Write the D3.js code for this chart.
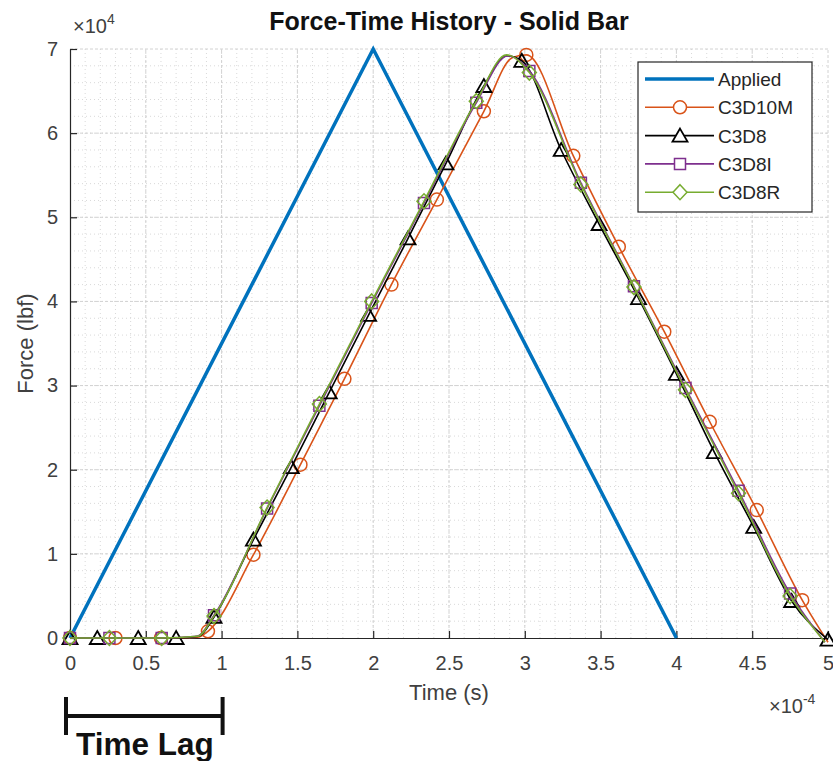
<!DOCTYPE html>
<html>
<head>
<meta charset="utf-8">
<script src="https://cdn.jsdelivr.net/npm/d3@7"></script>
<style>
  body { margin: 0; background: #fff; }
  svg { display: block; font-family: "Liberation Sans", Arial, sans-serif; }
</style>
</head>
<body>
<div id="chart"></div>
<script>
// time in units of 1e-4 s, force in units of 1e4 lbf
const xTicks = [0, 0.5, 1, 1.5, 2, 2.5, 3, 3.5, 4, 4.5, 5];
const yTicks = [0, 1, 2, 3, 4, 5, 6, 7];

const applied = [[0, 0], [2, 7], [4, 0]];

// [time, force, hasMarker]
const c3d10m = [
  [0, 0, 1], [0.30, 0, 1], [0.60, 0, 1], [0.84, 0.01, 0], [0.91, 0.08, 1],
  [1.21, 0.99, 1], [1.52, 2.06, 1], [1.81, 3.08, 1], [2.12, 4.2, 1],
  [2.42, 5.21, 1], [2.73, 6.26, 1], [2.92, 6.9, 0], [3.01, 6.93, 1],
  [3.32, 5.73, 1], [3.62, 4.65, 1], [3.92, 3.64, 1], [4.22, 2.57, 1],
  [4.53, 1.52, 1], [4.83, 0.45, 1], [5.0, -0.05, 0]
];
const c3d8 = [
  [0, 0, 1], [0.18, 0, 1], [0.45, 0, 1], [0.70, 0, 1], [0.85, 0.02, 0],
  [0.95, 0.25, 1], [1.21, 1.17, 1], [1.46, 2.03, 1], [1.71, 2.92, 1],
  [1.97, 3.84, 1], [2.23, 4.75, 1], [2.48, 5.64, 1], [2.73, 6.56, 1],
  [2.88, 6.92, 0], [2.98, 6.86, 1], [3.24, 5.8, 1], [3.49, 4.92, 1],
  [3.75, 4.04, 1], [4.0, 3.14, 1], [4.25, 2.21, 1], [4.51, 1.32, 1],
  [4.76, 0.44, 1], [5.0, -0.02, 1]
];
const c3d8i = [
  [0, 0, 1], [0.26, 0, 1], [0.605, 0, 1], [0.84, 0.02, 0], [0.95, 0.27, 1],
  [1.30, 1.54, 1], [1.645, 2.76, 1], [1.99, 3.98, 1], [2.335, 5.17, 1],
  [2.68, 6.36, 1], [2.89, 6.92, 0], [3.03, 6.74, 1], [3.37, 5.41, 1],
  [3.72, 4.18, 1], [4.06, 2.97, 1], [4.41, 1.75, 1], [4.75, 0.53, 1],
  [4.98, -0.05, 0]
];
const c3d8r = [
  [0, 0, 1], [0.26, 0, 1], [0.605, 0, 1], [0.84, 0.02, 0], [0.95, 0.26, 1],
  [1.30, 1.55, 1], [1.645, 2.78, 1], [1.99, 4.0, 1], [2.335, 5.19, 1],
  [2.68, 6.38, 1], [2.88, 6.93, 0], [3.03, 6.72, 1], [3.37, 5.39, 1],
  [3.72, 4.17, 1], [4.06, 2.95, 1], [4.41, 1.72, 1], [4.75, 0.5, 1],
  [4.98, -0.05, 0]
];

const series = [
  { name: "C3D10M", data: c3d10m, color: "#D95319", marker: "circle" },
  { name: "C3D8", data: c3d8, color: "#000000", marker: "triangle" },
  { name: "C3D8I", data: c3d8i, color: "#7E2F8E", marker: "square" },
  { name: "C3D8R", data: c3d8r, color: "#77AC30", marker: "diamond" }
];

const width = 833, height = 761;
const x = d3.scaleLinear().domain([0, 5]).range([70, 828]);
const y = d3.scaleLinear().domain([0, 7]).range([638, 49]);
const textColor = "#404040";

const svg = d3.select("#chart").append("svg")
  .attr("width", width)
  .attr("height", height);

// grid, minor first then major
const grid = svg.append("g");
grid.selectAll(".vminor")
  .data(d3.range(1, 50).map(i => i / 10))
  .join("line")
  .attr("x1", d => x(d)).attr("x2", d => x(d))
  .attr("y1", y(0)).attr("y2", y(7))
  .attr("stroke", "#d9d9d9").attr("stroke-width", 1)
  .attr("stroke-dasharray", "1,3");
grid.selectAll(".hminor")
  .data(d3.range(1, 35).map(i => i / 5))
  .join("line")
  .attr("y1", d => y(d)).attr("y2", d => y(d))
  .attr("x1", x(0)).attr("x2", x(5))
  .attr("stroke", "#d9d9d9").attr("stroke-width", 1)
  .attr("stroke-dasharray", "1,3");
grid.selectAll(".vmajor")
  .data(xTicks.slice(1))
  .join("line")
  .attr("x1", d => x(d)).attr("x2", d => x(d))
  .attr("y1", y(0)).attr("y2", y(7))
  .attr("stroke", "#d2d2d2").attr("stroke-width", 1)
  .attr("stroke-dasharray", "3,2");
grid.selectAll(".hmajor")
  .data(yTicks.slice(1))
  .join("line")
  .attr("y1", d => y(d)).attr("y2", d => y(d))
  .attr("x1", x(0)).attr("x2", x(5))
  .attr("stroke", "#d2d2d2").attr("stroke-width", 1)
  .attr("stroke-dasharray", "3,2");

// axes with inward ticks
const xAxis = svg.append("g")
  .attr("transform", `translate(0,${y(0)})`)
  .call(d3.axisBottom(x).tickValues(xTicks).tickFormat(d3.format("")).tickSizeInner(-7).tickSizeOuter(0).tickPadding(18));
const yAxis = svg.append("g")
  .attr("transform", `translate(${x(0)},0)`)
  .call(d3.axisLeft(y).tickValues(yTicks).tickFormat(d3.format("")).tickSizeInner(-7).tickSizeOuter(0).tickPadding(12));
[xAxis, yAxis].forEach(a => {
  a.select(".domain").attr("stroke", "#262626").attr("stroke-width", 1.2);
  a.selectAll(".tick line").attr("stroke", "#262626").attr("stroke-width", 1.2);
  a.selectAll(".tick text")
    .attr("fill", textColor)
    .style("font-size", "20px")
    .style("font-family", "Liberation Sans, Arial, sans-serif");
});

// exponent labels
svg.append("text")
  .attr("x", 73).attr("y", 33)
  .attr("fill", textColor)
  .style("font-size", "20px")
  .call(t => {
    t.append("tspan").text("\u00d710");
    t.append("tspan").attr("dy", -9).style("font-size", "14px").text("4");
  });
svg.append("text")
  .attr("x", 769).attr("y", 713)
  .attr("fill", textColor)
  .style("font-size", "20px")
  .call(t => {
    t.append("tspan").text("\u00d710");
    t.append("tspan").attr("dy", -9).style("font-size", "14px").text("-4");
  });

// labels
svg.append("text")
  .attr("x", (x(0) + x(5)) / 2).attr("y", 30)
  .attr("text-anchor", "middle")
  .style("font-size", "25px").style("font-weight", "bold")
  .attr("fill", "#111")
  .text("Force-Time History - Solid Bar");
svg.append("text")
  .attr("x", (x(0) + x(5)) / 2).attr("y", 700)
  .attr("text-anchor", "middle")
  .style("font-size", "22px")
  .attr("fill", textColor)
  .text("Time (s)");
svg.append("text")
  .attr("transform", `translate(33,${(y(0) + y(7)) / 2}) rotate(-90)`)
  .attr("text-anchor", "middle")
  .style("font-size", "22px")
  .attr("fill", textColor)
  .text("Force (lbf)");

// applied load
svg.append("path")
  .datum(applied)
  .attr("fill", "none")
  .attr("stroke", "#0072BD")
  .attr("stroke-width", 3.5)
  .attr("d", d3.line().x(d => x(d[0])).y(d => y(d[1])));

function markerPath(type) {
  if (type === "circle") return d3.symbol().type(d3.symbolCircle).size(Math.PI * 6.5 * 6.5)();
  if (type === "triangle") return "M0,-7L7.5,6L-7.5,6Z";
  if (type === "square") return "M-5.5,-5.5H5.5V5.5H-5.5Z";
  return "M0,-7.5L7,0L0,7.5L-7,0Z";
}

const line = d3.line()
  .x(d => x(d[0]))
  .y(d => y(d[1]))
  .curve(d3.curveMonotoneX);

series.forEach(s => {
  const g = svg.append("g");
  g.append("path")
    .datum(s.data)
    .attr("fill", "none")
    .attr("stroke", s.color)
    .attr("stroke-width", 1.6)
    .attr("d", line);
  g.selectAll("path.mk")
    .data(s.data.filter(d => d[2]))
    .join("path")
    .attr("class", "mk")
    .attr("transform", d => `translate(${x(d[0])},${y(d[1])})`)
    .attr("d", markerPath(s.marker))
    .attr("fill", "none")
    .attr("stroke", s.color)
    .attr("stroke-width", s.marker === "triangle" ? 1.8 : 1.5);
});

// legend
const legend = svg.append("g");
legend.append("rect")
  .attr("x", 638).attr("y", 62)
  .attr("width", 174).attr("height", 150)
  .attr("fill", "#fff")
  .attr("stroke", "#262626").attr("stroke-width", 1.2);
const entries = [{ name: "Applied", color: "#0072BD", marker: null }].concat(series);
entries.forEach((e, i) => {
  const cy = 79 + i * 28.3;
  legend.append("line")
    .attr("x1", 645).attr("x2", 714)
    .attr("y1", cy).attr("y2", cy)
    .attr("stroke", e.color)
    .attr("stroke-width", e.marker ? 1.6 : 3.5);
  if (e.marker) {
    legend.append("path")
      .attr("transform", `translate(680,${cy})`)
      .attr("d", markerPath(e.marker))
      .attr("fill", "#fff")
      .attr("stroke", e.color)
      .attr("stroke-width", e.marker === "triangle" ? 1.8 : 1.5);
  }
  legend.append("text")
    .attr("x", 718).attr("y", cy + 7)
    .style("font-size", "19px")
    .attr("fill", "#262626")
    .text(e.name);
});

// time lag bracket
const lag = svg.append("g").attr("stroke", "#111").attr("stroke-width", 4);
lag.append("line").attr("x1", x(0) - 4).attr("x2", x(0) - 4).attr("y1", 697).attr("y2", 735);
lag.append("line").attr("x1", x(1) + 1).attr("x2", x(1) + 1).attr("y1", 697).attr("y2", 735);
lag.append("line").attr("x1", x(0) - 4).attr("x2", x(1) + 1).attr("y1", 716).attr("y2", 716);
svg.append("text")
  .attr("x", 76).attr("y", 755)
  .style("font-size", "31.5px").style("font-weight", "bold")
  .attr("fill", "#111")
  .text("Time Lag");
</script>
</body>
</html>
